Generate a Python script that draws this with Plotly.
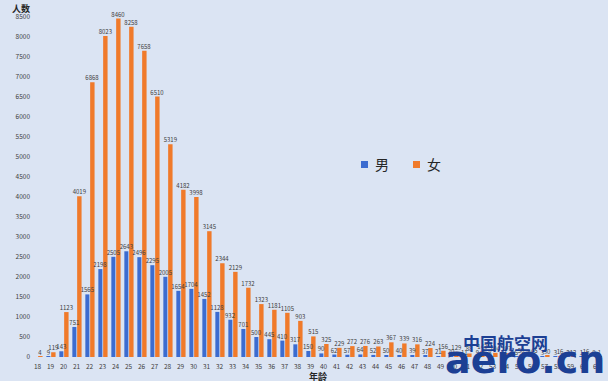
import plotly.graph_objects as go

ages = [str(a) for a in range(18, 62)]
male = [None, 9, 143, 751, 1565, 2198, 2505, 2643, 2496, 2295, 2005, 1654, 1704, 1452,
        1128, 932, 701, 500, 445, 410, 317, 150, 90, 62, 57, 64, 52, 50, 40, 39, 37, 21, 20,
        11, 9, 8, 6, 5, 4, 3, 3, 2, 1, 0]
female = [4, 119, 1123, 4019, 6868, 8023, 8460, 8258, 7658, 6510, 5319, 4182, 3998, 3145,
          2344, 2129, 1732, 1323, 1181, 1105, 903, 515, 325, 229, 272, 276, 263, 367, 339,
          316, 224, 156, 129, 88, 143, 104, 97, 56, 45, 30, 16, 12, 16, 1]
y_ticks = list(range(0, 9000, 500))
series_names = ["男", "女"]
series_colors = ["#3c6cd0", "#f07a2a"]

W, H = 614, 381
ML, MR, MT, MB = 31, 11, 5, 24
PW, PH = W - ML - MR, H - MT - MB


def px_x(px):
    return (px - ML) / PW


def px_y(py):
    return (H - MB - py) / PH


def labels(vals):
    return ["" if v is None else str(v) for v in vals]


offsets = [-0.32, 0.05]
widths = [0.31, 0.34]

fig = go.Figure()
# bars
for name, vals, col, off, wd in zip(series_names, [male, female], series_colors, offsets, widths):
    fig.add_trace(go.Bar(name=name, x=ages, y=vals, offset=off, width=wd,
                         marker=dict(color=col, line=dict(width=0)), hoverinfo="skip"))
# labels drawn on top of all bars
for name, vals, off, wd in zip(series_names, [male, female], offsets, widths):
    fig.add_trace(go.Bar(name=name + " label", x=ages, y=vals, offset=off, width=wd,
                         text=labels(vals), textposition="outside",
                         marker=dict(color="rgba(0,0,0,0)", line=dict(width=0)),
                         textfont=dict(size=6, color="#404040"), cliponaxis=False,
                         hoverinfo="skip"))

bg = "#dbe4f3"
fig.update_layout(
    width=W, height=H,
    margin=dict(l=ML, r=MR, t=MT, b=MB),
    paper_bgcolor=bg, plot_bgcolor=bg,
    barmode="overlay",
    font=dict(family="Noto Sans CJK SC, sans-serif", color="#404040"),
    showlegend=False,
    uniformtext=dict(minsize=5, mode="show"),
)
fig.update_xaxes(type="category", showgrid=False, showline=False, ticks="",
                 tickfont=dict(size=6.5, color="#404040"), ticklabelstandoff=4)
fig.update_yaxes(range=[0, 8800], tickvals=y_ticks, showgrid=False, zeroline=False,
                 showline=False, ticks="", tickfont=dict(size=6.5, color="#404040"))

# manual legend
legend_pos = [(361, 373), (413, 425)]
for (sx, tx), name, col in zip(legend_pos, series_names, series_colors):
    fig.add_shape(type="rect", xref="paper", yref="paper",
                  x0=px_x(sx), x1=px_x(sx + 7), y0=px_y(168), y1=px_y(161),
                  fillcolor=col, line=dict(width=0))
    fig.add_annotation(text=name, xref="paper", yref="paper", x=px_x(tx), y=px_y(164),
                       xanchor="left", yanchor="middle", showarrow=False,
                       font=dict(size=14, color="#262626"))

fig.add_annotation(text="<b>人数</b>", xref="paper", yref="paper", x=px_x(10), y=px_y(8),
                   xanchor="left", yanchor="middle", showarrow=False,
                   font=dict(size=9, color="#262626"))
fig.add_annotation(text="<b>年龄</b>", xref="paper", yref="paper", x=px_x(318), y=px_y(376),
                   xanchor="center", yanchor="middle", showarrow=False,
                   font=dict(size=9, color="#262626"))
# watermark
fig.add_annotation(text="<b>中国航空网</b>", xref="paper", yref="paper", x=px_x(461), y=px_y(342),
                   xanchor="left", yanchor="middle", showarrow=False,
                   font=dict(size=17, color="#1c3f94"))
fig.add_annotation(text="<b>aero.cn</b>", xref="paper", yref="paper", x=px_x(607), y=px_y(360),
                   xanchor="right", yanchor="middle", showarrow=False,
                   font=dict(size=38, color="#1c3f94", family="DejaVu Sans"))
# white strip at right edge
fig.add_shape(type="rect", xref="paper", yref="paper", x0=px_x(608), x1=px_x(W + 2),
              y0=px_y(H + 2), y1=px_y(-2), fillcolor="white", line=dict(width=0), layer="above")

fig.write_html("out.html", config={"displayModeBar": False},
               post_script="document.body.style.margin='0';")
